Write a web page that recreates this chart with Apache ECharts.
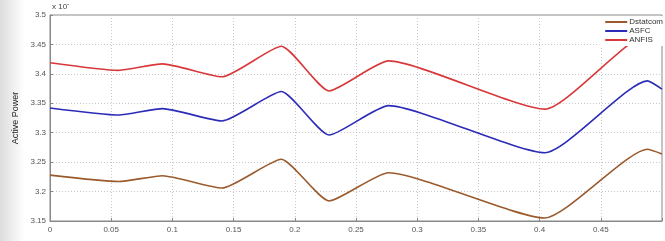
<!DOCTYPE html>
<html><head><meta charset="utf-8">
<script src="https://cdn.jsdelivr.net/npm/echarts@6/dist/echarts.min.js"></script>
<style>html,body{margin:0;padding:0;background:#fff}#c{width:665px;height:241px}</style>
</head><body><div id="c"></div>
<script>
const seriesNames = ['Dstatcom', 'ASFC', 'ANFIS'];
const xValues = [0, 0.056, 0.092, 0.1405, 0.189, 0.228, 0.2765, 0.4043, 0.488, 0.5];
const dstatcom = [3.228, 3.217, 3.227, 3.206, 3.255, 3.184, 3.232, 3.155, 3.272, 3.264];
const asfc     = [3.342, 3.330, 3.341, 3.320, 3.370, 3.296, 3.346, 3.266, 3.388, 3.374];
const anfis    = [3.419, 3.406, 3.417, 3.395, 3.447, 3.371, 3.422, 3.340, 3.466, 3.455];
const xTicks = [0, 0.05, 0.1, 0.15, 0.2, 0.25, 0.3, 0.35, 0.4, 0.45];
const yTicks = [3.15, 3.2, 3.25, 3.3, 3.35, 3.4, 3.45, 3.5];
const colors = ['#9b5a2c', '#2b2bb8', '#d8383a'];

const chart = echarts.init(document.getElementById('c'), null, {renderer: 'canvas'});
const mk = (vals) => xValues.map((x, i) => [x, vals[i]]);
const allVals = [dstatcom, asfc, anfis];
chart.setOption({
  backgroundColor: '#ffffff',
  animation: false,
  graphic: [
    {type: 'rect', left: 0, top: 0, shape: {width: 24, height: 241}, z: -10,
     style: {fill: new echarts.graphic.LinearGradient(0, 0, 1, 0, [{offset: 0, color: '#dcdcdc'}, {offset: 1, color: '#ffffff'}])}},
    {type: 'text', left: 52, top: 3, z: 10,
     style: {text: 'x 10', fontSize: 8, fill: '#444', fontFamily: 'Liberation Sans'}},
    {type: 'text', left: 67, top: 1, z: 10,
     style: {text: '-', fontSize: 7, fill: '#444', fontFamily: 'Liberation Sans'}}
  ],
  grid: {left: 50, right: -7, top: 15, bottom: 20, show: true, borderColor: '#888', borderWidth: 1},
  legend: {
    data: seriesNames, orient: 'vertical', right: 0, top: 16,
    itemWidth: 22, itemHeight: 2, itemGap: 1, padding: [2, 2, 2, 6],
    backgroundColor: '#ffffff', z: 20,
    icon: 'rect',
    textStyle: {fontSize: 8, color: '#333', fontFamily: 'Liberation Sans', padding: [0, 0, 0, -3]}
  },
  xAxis: {
    type: 'value', min: 0, max: 0.5, interval: 0.05,
    axisLine: {onZero: false, lineStyle: {color: '#888'}},
    axisTick: {inside: true, length: 3, lineStyle: {color: '#888'}},
    axisLabel: {fontSize: 8, color: '#555', fontFamily: 'Liberation Sans', margin: 5,
      formatter: v => (v >= 0.499 ? '' : String(+v.toFixed(2)))},
    splitLine: {show: true, lineStyle: {color: '#c8c8c8', type: [1, 2], width: 1}}
  },
  yAxis: {
    type: 'value', min: 3.15, max: 3.5, interval: 0.05,
    name: 'Active Power', nameLocation: 'middle', nameGap: 25, nameRotate: 90,
    nameTextStyle: {fontSize: 9, color: '#222', fontFamily: 'Liberation Sans'},
    axisLine: {show: true, lineStyle: {color: '#888'}},
    axisTick: {inside: true, length: 3, lineStyle: {color: '#888'}},
    axisLabel: {fontSize: 8, color: '#555', fontFamily: 'Liberation Sans', margin: 4,
      formatter: v => String(+v.toFixed(2))},
    splitLine: {show: true, lineStyle: {color: '#c8c8c8', type: [1, 2], width: 1}}
  },
  series: seriesNames.map((n, i) => ({
    name: n, type: 'line', data: mk(allVals[i]), smooth: 0.18,
    showSymbol: false, symbol: 'none', color: colors[i],
    lineStyle: {width: 1.6, color: colors[i]}, clip: true
  }))
});
</script></body></html>
